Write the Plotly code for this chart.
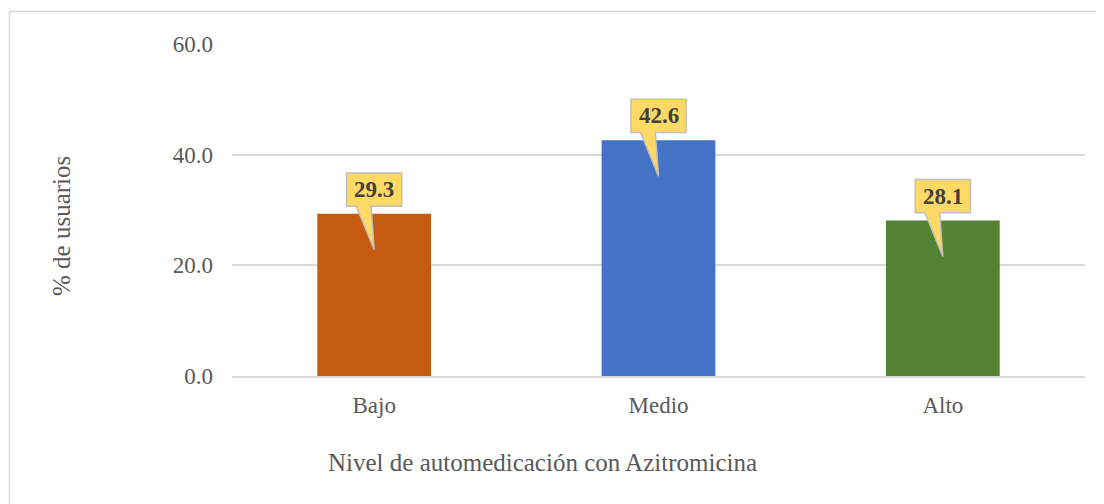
import plotly.graph_objects as go

categories = ["Bajo", "Medio", "Alto"]
values = [29.3, 42.6, 28.1]
colors = ["#C55A11", "#4472C4", "#548235"]
y_ticks = [0, 20, 40, 60]
x_title = "Nivel de automedicación con Azitromicina"
y_title = "% de usuarios"

FONT = "Liberation Serif, Times New Roman, serif"
xs = list(range(len(categories)))

fig = go.Figure()
fig.add_trace(go.Bar(x=xs, y=values, width=0.4, marker=dict(color=colors, line=dict(width=0)),
                     hoverinfo="skip"))

# callouts
HW = 0.097
for xi, v in zip(xs, values):
    b = v + 1.4
    t = v + 7.4
    tip = v - 6.5
    path = (f"M {xi-HW},{b} L {xi-HW},{t} L {xi+HW},{t} L {xi+HW},{b} "
            f"L {xi-0.011},{b} L {xi},{tip} L {xi-0.063},{b} Z")
    fig.add_shape(type="path", path=path, xref="x", yref="y",
                  fillcolor="#FFD966", line=dict(color="#BFBFBF", width=1.5), layer="above")
    fig.add_annotation(x=xi, y=v + 4.4, xref="x", yref="y", text=f"<b>{v:.1f}</b>",
                       showarrow=False, font=dict(family=FONT, size=23, color="#404040"),
                       xanchor="center", yanchor="middle")

OFF = 8  # page body margin
W, H = 1104, 504
L, R, T, B = 232 - OFF, W - (1085 - OFF), 44 - OFF, H - (376 - OFF)
pw, ph = W - L - R, H - T - B

def px_x(p):
    return (p - OFF - L) / pw

def px_y(p):
    return (H - B - (p - OFF)) / ph

# chart border
fig.add_shape(type="rect", xref="paper", yref="paper",
              x0=px_x(9.5), x1=px_x(1125), y0=px_y(11.5), y1=px_y(525),
              line=dict(color="#D9D9D9", width=1.5), fillcolor="rgba(0,0,0,0)", layer="below")

fig.add_annotation(x=px_x(542), y=px_y(462), xref="paper", yref="paper", text=x_title,
                   showarrow=False, font=dict(family=FONT, size=25, color="#595959"),
                   xanchor="center", yanchor="middle")
fig.add_annotation(x=px_x(62), y=px_y(226), xref="paper", yref="paper", text=y_title,
                   showarrow=False, textangle=-90, font=dict(family=FONT, size=25, color="#595959"),
                   xanchor="center", yanchor="middle")

fig.update_layout(
    width=W, height=H,
    margin=dict(l=L, r=R, t=T, b=B, pad=0),
    paper_bgcolor="white", plot_bgcolor="white",
    showlegend=False, bargap=0.6,
    font=dict(family=FONT, size=23, color="#595959"),
)
fig.update_xaxes(range=[-0.5, 2.5], tickvals=xs, ticktext=categories, showgrid=False,
                 zeroline=False, showline=True, linecolor="#D9D9D9", linewidth=1.5,
                 ticks="", ticklabelstandoff=8, tickfont=dict(family=FONT, size=23, color="#595959"))
fig.update_yaxes(range=[0, 60], tickvals=y_ticks, tickformat=".1f", showgrid=True,
                 gridcolor="#D9D9D9", gridwidth=1.5, zeroline=False, showline=False,
                 ticks="", ticklabelstandoff=18, tickfont=dict(family=FONT, size=23, color="#595959"))

fig.write_html("out.html")
